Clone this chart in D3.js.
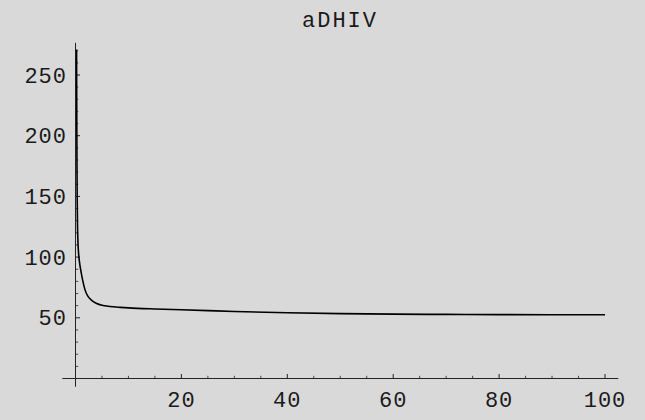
<!DOCTYPE html>
<html>
<head>
<meta charset="utf-8">
<script src="https://cdn.jsdelivr.net/npm/d3@7"></script>
<style>
  html, body { margin: 0; padding: 0; background: #d9d9d9; }
  svg { display: block; }
  text { font-family: "Liberation Mono", "Courier New", monospace; fill: #1a1a1a; }
</style>
</head>
<body>
<svg id="chart" width="645" height="420"></svg>
<script>
// aDHIV response curve
const title = "aDHIV";
const xValues = [0.2, 0.22, 0.25, 0.28, 0.32, 0.37, 0.45, 0.55, 0.75, 1.0, 1.35, 1.8, 2.3, 3.0, 4, 5, 6.5, 8.5, 10, 15, 20, 25, 30, 40, 50, 60, 70, 80, 90, 100];
const yValues = [271, 240, 205, 175, 148, 128, 114, 105, 96, 89, 81, 73, 68, 64.6, 61.8, 60.3, 59.3, 58.6, 58.2, 57.3, 56.6, 55.9, 55.2, 54.1, 53.4, 53.0, 52.8, 52.6, 52.5, 52.5];
const xMajorTicks = [20, 40, 60, 80, 100];
const xMinorTicks = d3.range(5, 101, 5).filter(v => v % 20 !== 0);
const yMajorTicks = [50, 100, 150, 200, 250];
const yMinorTicks = d3.range(10, 271, 10).filter(v => v % 50 !== 0);

const svg = d3.select("#chart");

const x = d3.scaleLinear().domain([0, 100]).range([75.5, 605]);
const y = d3.scaleLinear().domain([0, 250]).range([378.5, 75]);

const axisColor = "#222";

// Axis lines through the origin
svg.append("line")
  .attr("x1", x(-2.5)).attr("x2", x(102.5))
  .attr("y1", y(0)).attr("y2", y(0))
  .attr("stroke", axisColor).attr("stroke-width", 1);
svg.append("line")
  .attr("x1", x(0)).attr("x2", x(0))
  .attr("y1", y(-6.8)).attr("y2", y(276.5))
  .attr("stroke", axisColor).attr("stroke-width", 1);

// x ticks (pointing up into the plot)
svg.selectAll(".xmaj").data(xMajorTicks).join("line")
  .attr("x1", d => x(d)).attr("x2", d => x(d))
  .attr("y1", y(0)).attr("y2", y(0) - 4.5)
  .attr("stroke", axisColor).attr("stroke-width", 1);
svg.selectAll(".xmin").data(xMinorTicks).join("line")
  .attr("x1", d => x(d)).attr("x2", d => x(d))
  .attr("y1", y(0)).attr("y2", y(0) - 2.7)
  .attr("stroke", axisColor).attr("stroke-width", 0.8);

// y ticks (pointing right into the plot)
svg.selectAll(".ymaj").data(yMajorTicks).join("line")
  .attr("x1", x(0)).attr("x2", x(0) + 4.5)
  .attr("y1", d => y(d)).attr("y2", d => y(d))
  .attr("stroke", axisColor).attr("stroke-width", 1);
svg.selectAll(".ymin").data(yMinorTicks).join("line")
  .attr("x1", x(0)).attr("x2", x(0) + 2.7)
  .attr("y1", d => y(d)).attr("y2", d => y(d))
  .attr("stroke", axisColor).attr("stroke-width", 0.8);

// tick labels
svg.selectAll(".xlab").data(xMajorTicks).join("text")
  .attr("x", d => x(d)).attr("y", 407)
  .attr("text-anchor", "middle")
  .style("font-size", "22px").style("letter-spacing", "1px")
  .text(d => d);
svg.selectAll(".ylab").data(yMajorTicks).join("text")
  .attr("x", 67).attr("y", d => y(d) + 7.5)
  .attr("text-anchor", "end")
  .style("font-size", "22px").style("letter-spacing", "1px")
  .text(d => d);

// title
svg.append("text")
  .attr("x", 340).attr("y", 27)
  .attr("text-anchor", "middle")
  .style("font-size", "22px").style("letter-spacing", "2px")
  .text(title);

// curve
const points = xValues.map((v, i) => [v, yValues[i]]);
svg.append("path")
  .datum(points)
  .attr("fill", "none")
  .attr("stroke", "#000")
  .attr("stroke-width", 1.6)
  .attr("d", d3.line().x(d => x(d[0])).y(d => y(d[1])).curve(d3.curveMonotoneX));
</script>
</body>
</html>
